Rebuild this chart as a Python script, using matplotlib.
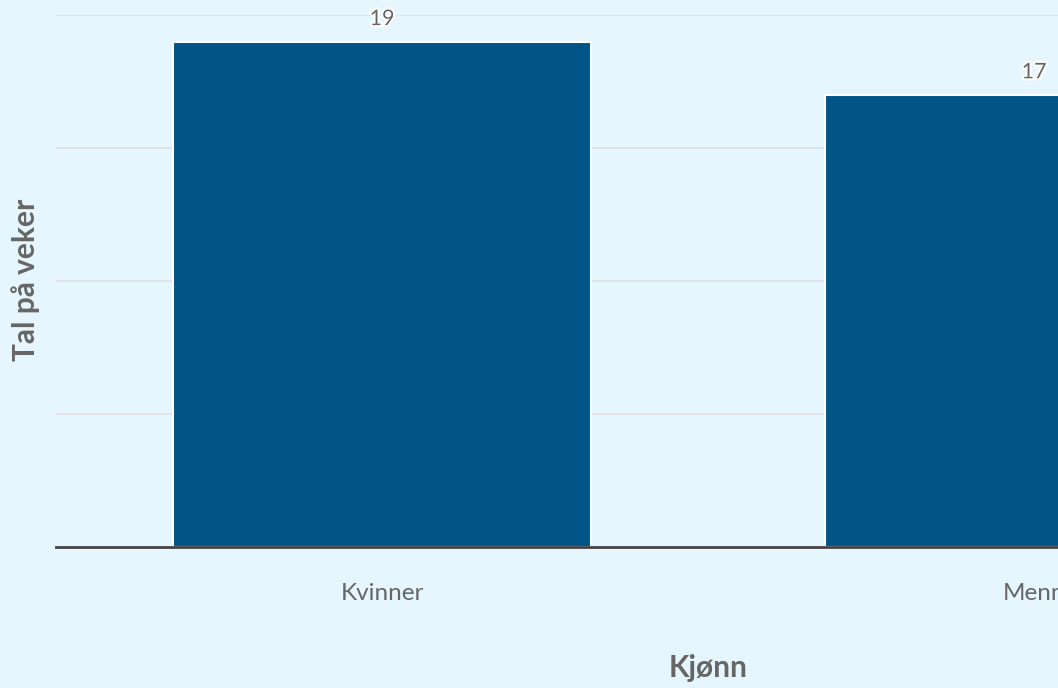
import matplotlib
matplotlib.use("Agg")
import matplotlib.pyplot as plt
import matplotlib.patheffects as pe

categories = ["Kvinner", "Menn"]
values = [19, 17]
yticks = [0, 5, 10, 15, 20]

BG = "#e6f6fe"
BAR = "#005587"
TXT = "#666666"

plt.rcParams['font.family'] = ['Lato', 'DejaVu Sans']

W, H = 1058, 688
fig = plt.figure(figsize=(W/100, H/100), dpi=100, facecolor=BG)
ax = fig.add_axes([56/W, (H-547)/H, 1-56/W, (547-15)/H])
ax.set_facecolor(BG)

x = list(range(len(categories)))
ax.bar(x, values, width=0.64, color=BAR, edgecolor="white", linewidth=1.5, zorder=3)
ax.set_xlim(-0.5, -0.5 + (W-56)/652)
ax.set_ylim(0, 20)
ax.set_yticks(yticks)
ax.set_yticklabels([])
ax.tick_params(axis='y', length=0)
ax.grid(axis='y', color="#e0e0e0", linewidth=1.2, zorder=0)
ax.set_xticks(x)
ax.set_xticklabels(categories, fontsize=17.5, color=TXT)
ax.tick_params(axis='x', length=0, pad=26)
for s in ["top", "right", "left"]:
    ax.spines[s].set_visible(False)
ax.spines["bottom"].set_color("#444444")
ax.spines["bottom"].set_linewidth(2)
ax.spines["bottom"].set_zorder(4)

for xi, v in zip(x, values):
    ax.annotate(str(v), (xi, v), xytext=(0, 9), textcoords="offset points",
                ha="center", va="bottom", fontsize=15.5, color=TXT, clip_on=False,
                path_effects=[pe.withStroke(linewidth=3, foreground="white")], zorder=5)

fig.text(708/W, 1-668/H, "Kjønn", ha="center", va="center", fontsize=21.5,
         fontweight="bold", color=TXT)
fig.text(26/W, 1-280/H, "Tal på veker", ha="center", va="center", fontsize=21.5,
         fontweight="bold", color=TXT, rotation=90)

fig.savefig("out.png", dpi=100, facecolor=BG)
